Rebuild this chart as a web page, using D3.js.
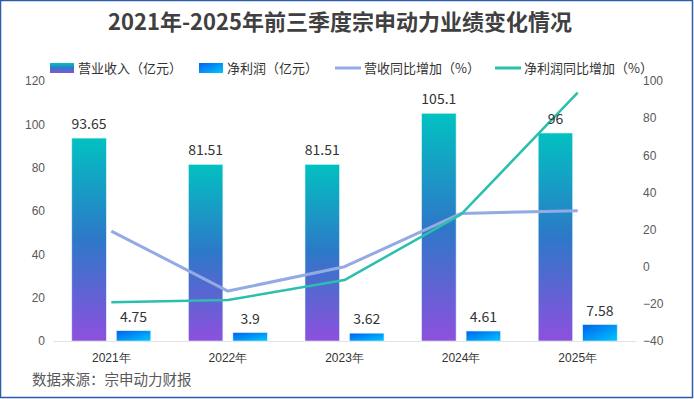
<!DOCTYPE html>
<html>
<head>
<meta charset="utf-8">
<script src="https://cdn.jsdelivr.net/npm/d3@7"></script>
<style>
  body { margin: 0; background: #fff; }
  svg { display: block; font-family: "Noto Sans CJK SC", "Noto Sans", sans-serif; }
</style>
</head>
<body>
<div id="chart"></div>
<script>
var years = ['2021年', '2022年', '2023年', '2024年', '2025年']
var revenue = [93.65, 81.51, 81.51, 105.1, 96]
var profit = [4.75, 3.9, 3.62, 4.61, 7.58]
var revenueGrowth = [19.2, -13.1, 0, 28.7, 30.2]
var profitGrowth = [-19.2, -17.9, -7.2, 28.2, 93.7]
var leftTicks = [0, 20, 40, 60, 80, 100, 120]
var rightTicks = [-40, -20, 0, 20, 40, 60, 80, 100]

var W = 694, H = 399
var svg = d3.select('#chart').append('svg').attr('width', W).attr('height', H)

var defs = svg.append('defs')
var g1 = defs.append('linearGradient').attr('id', 'revGrad')
    .attr('x1', 0).attr('y1', 0).attr('x2', 0).attr('y2', 1)
g1.append('stop').attr('offset', '0%').attr('stop-color', '#02c1c1')
g1.append('stop').attr('offset', '50%').attr('stop-color', '#2d78c8')
g1.append('stop').attr('offset', '100%').attr('stop-color', '#8e50de')
var g2 = defs.append('linearGradient').attr('id', 'netGrad')
    .attr('x1', 0).attr('y1', 0).attr('x2', 1).attr('y2', 1)
g2.append('stop').attr('offset', '0%').attr('stop-color', '#0062ef')
g2.append('stop').attr('offset', '100%').attr('stop-color', '#00c6fd')

// frame
svg.append('rect').attr('x', 0.5).attr('y', 0.5).attr('width', W - 2).attr('height', H - 2)
    .attr('fill', 'none').attr('stroke', '#2f5ca6').attr('stroke-width', 1.5)

svg.append('text').text('2021年-2025年前三季度宗申动力业绩变化情况')
    .attr('x', 340).attr('y', 30).attr('text-anchor', 'middle')
    .attr('font-size', 22).attr('font-weight', 'bold').attr('fill', '#404040')

var x = d3.scaleBand().domain(years).range([53, 636])
var yL = d3.scaleLinear().domain([0, 120]).range([341, 81])
var yR = d3.scaleLinear().domain([-40, 100]).range([341, 81])

// axes
var axisL = svg.append('g').attr('transform', 'translate(53,0)')
    .call(d3.axisLeft(yL).tickValues(leftTicks).tickSize(0).tickPadding(8))
axisL.select('.domain').remove()
axisL.selectAll('text').attr('font-size', 12).attr('fill', '#595959')

var axisR = svg.append('g').attr('transform', 'translate(636,0)')
    .call(d3.axisRight(yR).tickValues(rightTicks).tickSize(0).tickPadding(7))
axisR.select('.domain').remove()
axisR.selectAll('text').attr('font-size', 12).attr('fill', '#595959')

var axisB = svg.append('g').attr('transform', 'translate(0,341)')
    .call(d3.axisBottom(x).tickSize(0).tickPadding(12))
axisB.select('.domain').attr('stroke', '#e0e3ea')
axisB.selectAll('text').attr('font-size', 12).attr('fill', '#333')

var bw = 34.5
// revenue bars
svg.selectAll('.rev').data(revenue).enter().append('rect')
    .attr('x', (d, i) => x(years[i]) + x.bandwidth() / 2 - 5 - bw)
    .attr('y', d => yL(d))
    .attr('width', bw)
    .attr('height', d => yL(0) - yL(d))
    .attr('fill', 'url(#revGrad)')
    .attr('stroke', '#d8f4f4').attr('stroke-width', 0.6)

svg.selectAll('.net').data(profit).enter().append('rect')
    .attr('x', (d, i) => x(years[i]) + x.bandwidth() / 2 + 5)
    .attr('y', d => yL(d))
    .attr('width', bw)
    .attr('height', d => yL(0) - yL(d))
    .attr('fill', 'url(#netGrad)')
    .attr('stroke', '#d8f0fb').attr('stroke-width', 0.6)

var cx = (d, i) => x(years[i]) + x.bandwidth() / 2
var line1 = d3.line().x(cx).y(d => yR(d))

svg.append('path').datum(revenueGrowth).attr('d', line1)
    .attr('fill', 'none').attr('stroke', '#93aae2').attr('stroke-width', 3)
    .attr('stroke-linejoin', 'round')
svg.append('path').datum(profitGrowth).attr('d', line1)
    .attr('fill', 'none').attr('stroke', '#2bbfae').attr('stroke-width', 2.5)
    .attr('stroke-linejoin', 'round')

// labels
svg.selectAll('.revLab').data(revenue).enter().append('text')
    .text(d => d)
    .attr('x', (d, i) => x(years[i]) + x.bandwidth() / 2 - 5 - bw / 2)
    .attr('y', d => yL(d) - 9)
    .attr('text-anchor', 'middle').attr('font-size', 14).attr('fill', '#333')
svg.selectAll('.netLab').data(profit).enter().append('text')
    .text(d => d)
    .attr('x', (d, i) => x(years[i]) + x.bandwidth() / 2 + 5 + bw / 2)
    .attr('y', d => yL(d) - 9)
    .attr('text-anchor', 'middle').attr('font-size', 14).attr('fill', '#333')

// legend
var leg = svg.append('g').attr('font-size', 13).attr('fill', '#333')
leg.append('rect').attr('x', 50).attr('y', 63).attr('width', 24).attr('height', 10).attr('fill', 'url(#revGrad)')
leg.append('text').text('营业收入（亿元）').attr('x', 78).attr('y', 72.5)
leg.append('rect').attr('x', 199).attr('y', 63).attr('width', 24).attr('height', 10).attr('fill', 'url(#netGrad)')
leg.append('text').text('净利润（亿元）').attr('x', 227).attr('y', 72.5)
leg.append('line').attr('x1', 335).attr('x2', 361).attr('y1', 68).attr('y2', 68)
    .attr('stroke', '#93aae2').attr('stroke-width', 3)
leg.append('text').text('营收同比增加（%）').attr('x', 364).attr('y', 72.5)
leg.append('line').attr('x1', 495).attr('x2', 521).attr('y1', 68).attr('y2', 68)
    .attr('stroke', '#2bbfae').attr('stroke-width', 3)
leg.append('text').text('净利润同比增加（%）').attr('x', 524).attr('y', 72.5)

svg.append('text').text('数据来源：宗申动力财报')
    .attr('x', 32).attr('y', 385).attr('font-size', 14.5).attr('fill', '#595959')
</script>
</body>
</html>
